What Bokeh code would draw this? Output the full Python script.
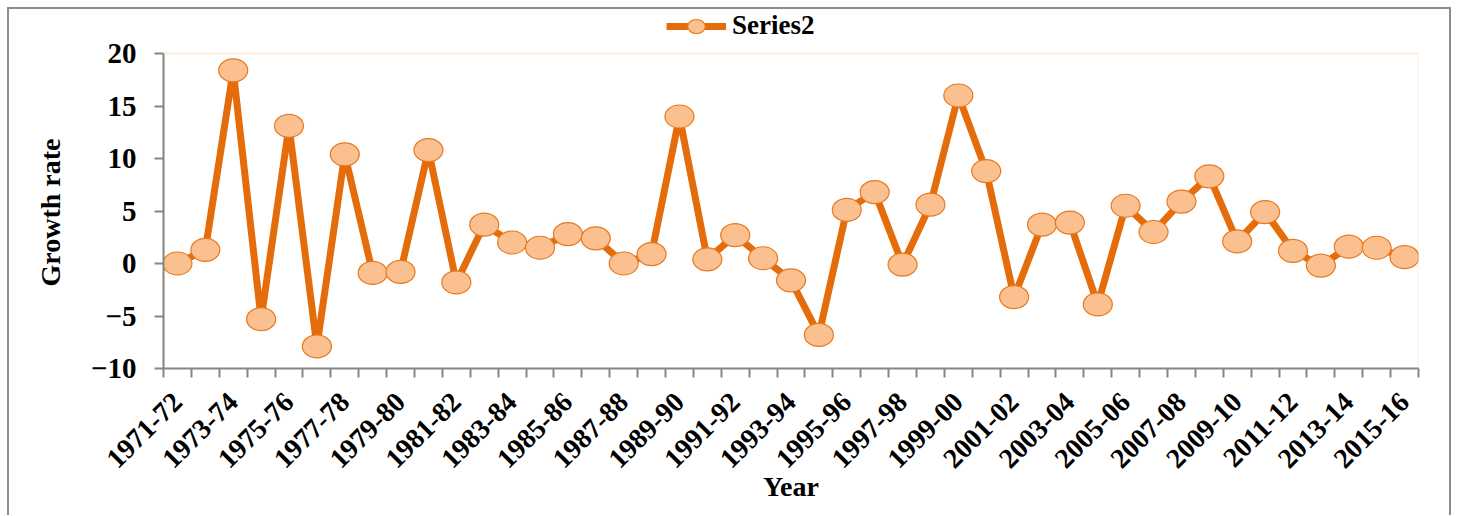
import math
from bokeh.plotting import figure
from bokeh.models import FixedTicker, Range1d, Legend, LegendItem, ColumnDataSource, BoxAnnotation
from bokeh.embed import file_html
from bokeh.resources import INLINE

years = ["1971-72", "1972-73", "1973-74", "1974-75", "1975-76", "1976-77", "1977-78",
         "1978-79", "1979-80", "1980-81", "1981-82", "1982-83", "1983-84", "1984-85",
         "1985-86", "1986-87", "1987-88", "1988-89", "1989-90", "1990-91", "1991-92",
         "1992-93", "1993-94", "1994-95", "1995-96", "1996-97", "1997-98", "1998-99",
         "1999-00", "2000-01", "2001-02", "2002-03", "2003-04", "2004-05", "2005-06",
         "2006-07", "2007-08", "2008-09", "2009-10", "2010-11", "2011-12", "2012-13",
         "2013-14", "2014-15", "2015-16"]
growth = [0.0, 1.3, 18.4, -5.3, 13.1, -7.9, 10.4, -0.9, -0.8, 10.8, -1.8, 3.7,
          2.0, 1.5, 2.8, 2.4, 0.0, 0.9, 14.0, 0.4, 2.7, 0.5, -1.6, -6.8, 5.1,
          6.8, -0.1, 5.6, 16.0, 8.8, -3.2, 3.7, 3.9, -3.9, 5.5, 3.0, 5.9, 8.3,
          2.1, 4.9, 1.2, -0.2, 1.6, 1.5, 0.6]
y_ticks = [-10, -5, 0, 5, 10, 15, 20]
series_name = "Series2"
y_title = "Growth rate"
x_title = "Year"

idx = list(range(len(years)))
src = ColumnDataSource(dict(x=idx, y=growth, label=years))

FONT = "Liberation Serif"
GRAY = "#868686"
BLACK = "#000000"

# layout (pixels)
W, H = 1458, 515
FRAME_TOP, PLOT_TOP, PLOT_BOTTOM = 0, 53, 368
y_lo, y_hi = y_ticks[0], y_ticks[-1]
px_per_unit = (PLOT_BOTTOM - PLOT_TOP) / (y_hi - y_lo)
y_top = y_hi + (PLOT_TOP - FRAME_TOP) / px_per_unit

p = figure(width=W, height=H, output_backend="svg", toolbar_location=None,
           x_range=Range1d(-0.5, len(years) - 0.5), y_range=Range1d(y_lo, y_top),
           min_border_left=163, min_border_top=FRAME_TOP, min_border_right=40,
           min_border_bottom=H - PLOT_BOTTOM)
p.border_fill_color = None
p.background_fill_color = None
p.styles = {"background-color": "#ffffff",
            "box-shadow": ("inset 7px 0 0 0 #ffffff, inset 0 7px 0 0 #ffffff, "
                           "inset -7px 0 0 0 #ffffff, "
                           "inset 9px 0 0 0 #8c8c8c, inset 0 9px 0 0 #8c8c8c, "
                           "inset -9px 0 0 0 #8c8c8c")}

p.xgrid.visible = False
p.ygrid.visible = False
p.outline_line_color = None

# plot-area border (orange top/right edges)
p.add_layout(BoxAnnotation(left=-0.5, right=len(years) - 0.5, bottom=y_lo, top=y_hi,
                           fill_color=None, line_color="#FAC090", line_width=2,
                           level="underlay"))

line_r = p.line("x", "y", source=src, line_color="#E46C0A", line_width=7)
mark_r = p.ellipse("x", "y", source=src, width=29, height=23,
                   width_units="screen", height_units="screen",
                   fill_color="#FAC08F", line_color="#E8791F", line_width=1.2)

# y axis (title padded so it is centred on the -10..20 span, not the whole frame)
ya = p.yaxis[0]
ya.ticker = FixedTicker(ticks=y_ticks)
ya.bounds = (y_lo, y_hi)
ya.axis_label = y_title + "\u00a0" * 8
ya.axis_label_text_font = FONT
ya.axis_label_text_font_style = "bold"
ya.axis_label_text_font_size = "28px"
ya.axis_label_text_color = BLACK
ya.axis_label_standoff = 22
ya.major_label_text_font = FONT
ya.major_label_text_font_style = "bold"
ya.major_label_text_font_size = "29px"
ya.major_label_text_color = BLACK
ya.major_label_standoff = 18
ya.axis_line_color = GRAY
ya.axis_line_width = 2
ya.major_tick_line_color = GRAY
ya.major_tick_line_width = 2
ya.major_tick_out = 9
ya.major_tick_in = 0
ya.minor_tick_line_color = None

# x axis
xa = p.xaxis[0]
xa.ticker = FixedTicker(ticks=idx[::2], minor_ticks=[i - 0.5 for i in range(len(years) + 1)])
xa.major_label_overrides = {i: years[i] for i in idx}
xa.major_label_orientation = math.pi / 4
xa.major_label_text_font = FONT
xa.major_label_text_font_style = "bold"
xa.major_label_text_font_size = "28px"
xa.major_label_text_color = BLACK
xa.major_label_standoff = 20
xa.major_tick_line_color = None
xa.minor_tick_line_color = GRAY
xa.minor_tick_line_width = 2
xa.minor_tick_out = 9
xa.minor_tick_in = 0
xa.axis_line_color = GRAY
xa.axis_line_width = 2
xa.axis_label = x_title
xa.axis_label_text_font = FONT
xa.axis_label_text_font_style = "bold"
xa.axis_label_text_font_size = "28px"
xa.axis_label_text_color = BLACK
xa.axis_label_standoff = -8

legend = Legend(items=[LegendItem(label=series_name, renderers=[line_r, mark_r])],
                location=(503, 327), orientation="horizontal",
                border_line_color=None, background_fill_alpha=0,
                label_text_font=FONT, label_text_font_style="bold",
                label_text_font_size="27px", label_text_color=BLACK,
                glyph_width=60, glyph_height=22,
                label_standoff=6, margin=0, padding=0)
p.add_layout(legend, "center")

open("out.html", "w").write(file_html(p, INLINE))
